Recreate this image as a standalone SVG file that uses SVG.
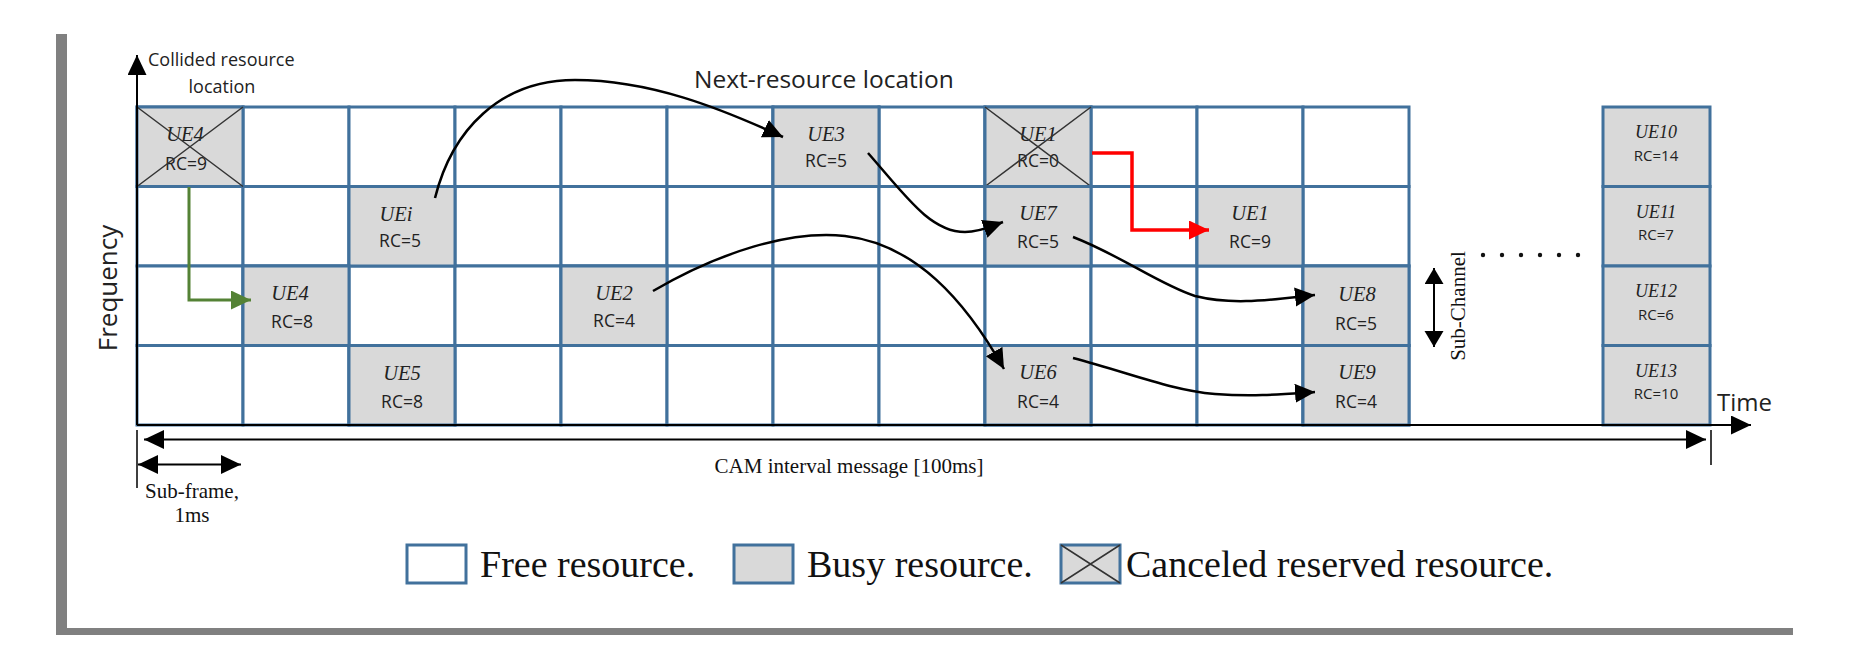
<svg xmlns="http://www.w3.org/2000/svg" width="1852" height="652" viewBox="0 0 1852 652">
<style>
.cell{fill:#ffffff;stroke:#41719c;stroke-width:3}
.busy{fill:#d9d9d9;stroke:#41719c;stroke-width:3}
.x{stroke:#333;stroke-width:1.5;fill:none}
.ue{font-family:"Liberation Serif",serif;font-style:italic;font-size:20.5px;fill:#222;text-anchor:middle}
.rc{font-family:"Open Sans",sans-serif;font-size:17.5px;fill:#222;text-anchor:middle}
.ue2{font-family:"Liberation Serif",serif;font-style:italic;font-size:18px;fill:#222;text-anchor:middle}
.rc2{font-family:"Open Sans",sans-serif;font-size:15px;fill:#222;text-anchor:middle}
.sans{font-family:"Open Sans",sans-serif;fill:#222}
.serif{font-family:"Liberation Serif",serif;fill:#111}
.curve{fill:none;stroke:#000;stroke-width:2.5;marker-end:url(#ah)}
.axis{fill:none;stroke:#000;stroke-width:2}
</style>
<defs>
<marker id="ah" markerUnits="userSpaceOnUse" markerWidth="22" markerHeight="20" refX="20" refY="9.5" orient="auto"><path d="M0,0 L20,9.5 L0,19 z" fill="#000"/></marker>
<marker id="ahg" markerUnits="userSpaceOnUse" markerWidth="22" markerHeight="20" refX="20" refY="9.5" orient="auto"><path d="M0,0 L20,9.5 L0,19 z" fill="#548235"/></marker>
<marker id="ahr" markerUnits="userSpaceOnUse" markerWidth="22" markerHeight="20" refX="20" refY="9.5" orient="auto"><path d="M0,0 L20,9.5 L0,19 z" fill="#ff0000"/></marker>
<marker id="ax" markerUnits="userSpaceOnUse" markerWidth="22" markerHeight="20" refX="20" refY="9.5" orient="auto-start-reverse"><path d="M0,0 L20,9.5 L0,19 z" fill="#000"/></marker>
<marker id="axs" markerUnits="userSpaceOnUse" markerWidth="18" markerHeight="20" refX="16" refY="9.5" orient="auto-start-reverse"><path d="M0,0 L16,9.5 L0,19 z" fill="#000"/></marker>
</defs>

<!-- frame -->
<rect x="56" y="34" width="11" height="601" fill="#808080"/>
<rect x="56" y="628" width="1737" height="7" fill="#808080"/>

<!-- grid of free resources -->
<g id="grid">
<g id="row0">
<rect class="cell" x="137" y="107" width="106" height="79.5"/><rect class="cell" x="243" y="107" width="106" height="79.5"/><rect class="cell" x="349" y="107" width="106" height="79.5"/><rect class="cell" x="455" y="107" width="106" height="79.5"/><rect class="cell" x="561" y="107" width="106" height="79.5"/><rect class="cell" x="667" y="107" width="106" height="79.5"/><rect class="cell" x="773" y="107" width="106" height="79.5"/><rect class="cell" x="879" y="107" width="106" height="79.5"/><rect class="cell" x="985" y="107" width="106" height="79.5"/><rect class="cell" x="1091" y="107" width="106" height="79.5"/><rect class="cell" x="1197" y="107" width="106" height="79.5"/><rect class="cell" x="1303" y="107" width="106" height="79.5"/>
</g>
<g id="row1">
<rect class="cell" x="137" y="186.5" width="106" height="79.5"/><rect class="cell" x="243" y="186.5" width="106" height="79.5"/><rect class="cell" x="349" y="186.5" width="106" height="79.5"/><rect class="cell" x="455" y="186.5" width="106" height="79.5"/><rect class="cell" x="561" y="186.5" width="106" height="79.5"/><rect class="cell" x="667" y="186.5" width="106" height="79.5"/><rect class="cell" x="773" y="186.5" width="106" height="79.5"/><rect class="cell" x="879" y="186.5" width="106" height="79.5"/><rect class="cell" x="985" y="186.5" width="106" height="79.5"/><rect class="cell" x="1091" y="186.5" width="106" height="79.5"/><rect class="cell" x="1197" y="186.5" width="106" height="79.5"/><rect class="cell" x="1303" y="186.5" width="106" height="79.5"/>
</g>
<g id="row2">
<rect class="cell" x="137" y="266" width="106" height="79.5"/><rect class="cell" x="243" y="266" width="106" height="79.5"/><rect class="cell" x="349" y="266" width="106" height="79.5"/><rect class="cell" x="455" y="266" width="106" height="79.5"/><rect class="cell" x="561" y="266" width="106" height="79.5"/><rect class="cell" x="667" y="266" width="106" height="79.5"/><rect class="cell" x="773" y="266" width="106" height="79.5"/><rect class="cell" x="879" y="266" width="106" height="79.5"/><rect class="cell" x="985" y="266" width="106" height="79.5"/><rect class="cell" x="1091" y="266" width="106" height="79.5"/><rect class="cell" x="1197" y="266" width="106" height="79.5"/><rect class="cell" x="1303" y="266" width="106" height="79.5"/>
</g>
<g id="row3">
<rect class="cell" x="137" y="345.5" width="106" height="79.5"/><rect class="cell" x="243" y="345.5" width="106" height="79.5"/><rect class="cell" x="349" y="345.5" width="106" height="79.5"/><rect class="cell" x="455" y="345.5" width="106" height="79.5"/><rect class="cell" x="561" y="345.5" width="106" height="79.5"/><rect class="cell" x="667" y="345.5" width="106" height="79.5"/><rect class="cell" x="773" y="345.5" width="106" height="79.5"/><rect class="cell" x="879" y="345.5" width="106" height="79.5"/><rect class="cell" x="985" y="345.5" width="106" height="79.5"/><rect class="cell" x="1091" y="345.5" width="106" height="79.5"/><rect class="cell" x="1197" y="345.5" width="106" height="79.5"/><rect class="cell" x="1303" y="345.5" width="106" height="79.5"/>
</g>
</g>

<!-- busy / canceled resources -->
<g id="ue4-canceled"><rect class="busy" x="137" y="107" width="106" height="79.5"/><text class="ue" x="185" y="141">UE4</text><text class="rc" x="186" y="170">RC=9</text><path class="x" d="M137,107 L243,186.5 M243,107 L137,186.5"/></g>
<g id="uei"><rect class="busy" x="349" y="186.5" width="106" height="79.5"/><text class="ue" x="396" y="221">UEi</text><text class="rc" x="400" y="247">RC=5</text></g>
<g id="ue4"><rect class="busy" x="243" y="266" width="106" height="79.5"/><text class="ue" x="290" y="300">UE4</text><text class="rc" x="292" y="328">RC=8</text></g>
<g id="ue5"><rect class="busy" x="349" y="345.5" width="106" height="79.5"/><text class="ue" x="402" y="380">UE5</text><text class="rc" x="402" y="408">RC=8</text></g>
<g id="ue2"><rect class="busy" x="561" y="266" width="106" height="79.5"/><text class="ue" x="614" y="300">UE2</text><text class="rc" x="614" y="327">RC=4</text></g>
<g id="ue3"><rect class="busy" x="773" y="107" width="106" height="79.5"/><text class="ue" x="826" y="141">UE3</text><text class="rc" x="826" y="167">RC=5</text></g>
<g id="ue1-canceled"><rect class="busy" x="985" y="107" width="106" height="79.5"/><text class="ue" x="1038" y="141">UE1</text><text class="rc" x="1038" y="167">RC=0</text><path class="x" d="M985,107 L1091,186.5 M1091,107 L985,186.5"/></g>
<g id="ue7"><rect class="busy" x="985" y="186.5" width="106" height="79.5"/><text class="ue" x="1038" y="220">UE7</text><text class="rc" x="1038" y="248">RC=5</text></g>
<g id="ue6"><rect class="busy" x="985" y="345.5" width="106" height="79.5"/><text class="ue" x="1038" y="379">UE6</text><text class="rc" x="1038" y="408">RC=4</text></g>
<g id="ue1"><rect class="busy" x="1197" y="186.5" width="106" height="79.5"/><text class="ue" x="1250" y="220">UE1</text><text class="rc" x="1250" y="248">RC=9</text></g>
<g id="ue8"><rect class="busy" x="1303" y="266" width="106" height="79.5"/><text class="ue" x="1357" y="301">UE8</text><text class="rc" x="1356" y="330">RC=5</text></g>
<g id="ue9"><rect class="busy" x="1303" y="345.5" width="106" height="79.5"/><text class="ue" x="1357" y="379">UE9</text><text class="rc" x="1356" y="408">RC=4</text></g>
<g id="ue10"><rect class="busy" x="1603" y="107" width="107" height="79.5"/><text class="ue2" x="1656" y="138">UE10</text><text class="rc2" x="1656" y="161">RC=14</text></g>
<g id="ue11"><rect class="busy" x="1603" y="186.5" width="107" height="79.5"/><text class="ue2" x="1656" y="218">UE11</text><text class="rc2" x="1656" y="240">RC=7</text></g>
<g id="ue12"><rect class="busy" x="1603" y="266" width="107" height="79.5"/><text class="ue2" x="1656" y="297">UE12</text><text class="rc2" x="1656" y="320">RC=6</text></g>
<g id="ue13"><rect class="busy" x="1603" y="345.5" width="107" height="79.5"/><text class="ue2" x="1656" y="377">UE13</text><text class="rc2" x="1656" y="399">RC=10</text></g>

<!-- axes and dimension arrows -->
<g id="axes">
<path class="axis" d="M137,425 L137,55" marker-end="url(#ax)"/>
<path class="axis" d="M137,425 L1751,425" marker-end="url(#ax)"/>
<path class="axis" d="M144,439.5 L1706,439.5" marker-start="url(#ax)" marker-end="url(#ax)"/>
<path class="axis" d="M137,430 L137,488 M1711,430 L1711,465" style="stroke-width:1.5"/>
<path class="axis" d="M138,464.5 L241,464.5" marker-start="url(#ax)" marker-end="url(#ax)"/>
<path class="axis" d="M1434,268 L1434,347" marker-start="url(#axs)" marker-end="url(#axs)"/>
</g>

<!-- connectors -->
<g id="connectors">
<path class="curve" d="M435,198 C452,130 500,80 575,80 C650,80 720,108 783,137"/>
<path class="curve" d="M868,153 C905,195 930,232 965,232 C980,232 992,226 1003,222"/>
<path class="curve" d="M653,291 C720,252 790,230 845,236 C915,244 965,300 1004,369"/>
<path class="curve" d="M1073,237 C1120,255 1160,285 1195,296 C1235,306 1275,299 1315,295"/>
<path class="curve" d="M1073,358 C1130,373 1170,390 1215,394 C1255,397 1285,394 1315,392"/>
<path d="M189,187 L189,300 L251,300" fill="none" stroke="#548235" stroke-width="3" marker-end="url(#ahg)"/>
<path d="M1092,153 L1132,153 L1132,230 L1209,230" fill="none" stroke="#ff0000" stroke-width="3.5" marker-end="url(#ahr)"/>
</g>

<!-- dots -->
<g id="dots" fill="#111">
<circle cx="1483" cy="255" r="2.2"/><circle cx="1502" cy="255" r="2.2"/><circle cx="1521" cy="255" r="2.2"/><circle cx="1540" cy="255" r="2.2"/><circle cx="1559" cy="255" r="2.2"/><circle cx="1578" cy="255" r="2.2"/>
</g>

<!-- labels -->
<g id="labels">
<text class="sans" x="148" y="66" font-size="18">Collided resource</text>
<text class="sans" x="222" y="93" font-size="18" text-anchor="middle">location</text>
<text class="sans" x="694" y="88" font-size="24.5">Next-resource location</text>
<text class="sans" x="1717" y="411" font-size="24">Time</text>
<text class="sans" font-size="26" text-anchor="middle" transform="translate(117,288) rotate(-90)">Frequency</text>
<text class="serif" font-size="21" text-anchor="middle" transform="translate(1465,306) rotate(-90)">Sub-Channel</text>
<text class="serif" x="192" y="498" font-size="21" text-anchor="middle">Sub-frame,</text>
<text class="serif" x="192" y="522" font-size="21" text-anchor="middle">1ms</text>
<text class="serif" x="849" y="473" font-size="21" text-anchor="middle">CAM interval message [100ms]</text>
</g>

<!-- legend -->
<g id="legend">
<g id="legend-free"><rect class="cell" x="407" y="545" width="59" height="38"/><text class="serif" x="480" y="577" font-size="38">Free resource.</text></g>
<g id="legend-busy"><rect class="busy" x="734" y="545" width="59" height="38"/><text class="serif" x="807" y="577" font-size="38">Busy resource.</text></g>
<g id="legend-canceled"><rect class="busy" x="1061" y="545" width="59" height="38"/><path class="x" d="M1061,545 L1120,583 M1120,545 L1061,583"/><text class="serif" x="1126" y="577" font-size="38">Canceled reserved resource.</text></g>
</g>
</svg>
